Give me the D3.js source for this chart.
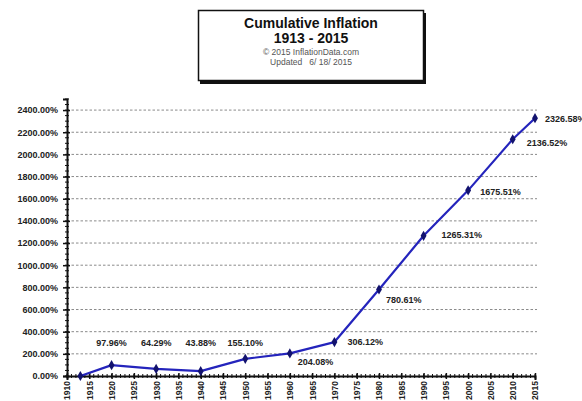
<!DOCTYPE html>
<html>
<head>
<meta charset="utf-8">
<script src="https://cdn.jsdelivr.net/npm/d3@7"></script>
<style>
  html, body { margin: 0; padding: 0; background: #fff; }
  svg { display: block; font-family: "Liberation Sans", Arial, sans-serif; }
</style>
</head>
<body>
<svg id="chart" width="582" height="401"></svg>
<script>
// Cumulative inflation since 1913, in percent
const years = [1913, 1920, 1930, 1940, 1950, 1960, 1970, 1980, 1990, 2000, 2010, 2015];
const cumulative = [0, 97.96, 64.29, 43.88, 155.10, 204.08, 306.12, 780.61, 1265.31, 1675.51, 2136.52, 2326.58];
// which points carry a value label (1913 has none)
const labelled = [false, true, true, true, true, true, true, true, true, true, true, true];
const yTicks = [0, 200, 400, 600, 800, 1000, 1200, 1400, 1600, 1800, 2000, 2200, 2400];
const xTicks = d3.range(1910, 2016, 5);
const titleLines = ["Cumulative Inflation", "1913 - 2015", "\u00a9 2015 InflationData.com", "Updated   6/ 18/ 2015"];

// label offsets from each point (layout only)
const labelOffset = {
  1920: { above: true }, 1930: { above: true }, 1940: { above: true }, 1950: { above: true },
  1960: { dx: 8, dy: 12 }, 1970: { dx: 13, dy: 3 }, 1980: { dx: 7, dy: 13 },
  1990: { dx: 18, dy: 2 }, 2000: { dx: 12, dy: 5 }, 2010: { dx: 14, dy: 7 }, 2015: { dx: 10, dy: 4 }
};

const svg = d3.select("#chart");
const plotLeft = 67, plotRight = 535, plotBottom = 376, plotTop = 99;

const x = d3.scaleLinear().domain([1910, 2015]).range([plotLeft, plotRight]);
const y = d3.scaleLinear().domain([0, 2500]).range([plotBottom, plotTop]);

// title box with drop shadow
const box = svg.append("g");
box.append("rect").attr("x", 200).attr("y", 13).attr("width", 226).attr("height", 71).attr("fill", "#111");
box.append("rect").attr("x", 198.5).attr("y", 10.5).attr("width", 225).attr("height", 70)
  .attr("fill", "#fff").attr("stroke", "#111").attr("stroke-width", 1.5);
const tl = [
  { t: titleLines[0], y: 28, size: 14, w: "bold" },
  { t: titleLines[1], y: 43, size: 14, w: "bold" },
  { t: titleLines[2], y: 55, size: 8.5, w: "normal" },
  { t: titleLines[3], y: 65, size: 8.5, w: "normal" }
];
box.selectAll("text.title").data(tl).join("text")
  .attr("class", "title")
  .attr("x", 311).attr("y", d => d.y)
  .attr("text-anchor", "middle")
  .attr("font-size", d => d.size).attr("font-weight", d => d.w)
  .attr("fill", d => d.w === "bold" ? "#111" : "#555")
  .attr("xml:space", "preserve")
  .style("white-space", "pre")
  .text(d => d.t);

// dashed gridlines
svg.append("g").selectAll("line").data(yTicks.filter(v => v > 0)).join("line")
  .attr("x1", plotLeft).attr("x2", plotRight + 2)
  .attr("y1", d => y(d)).attr("y2", d => y(d))
  .attr("stroke", "#8a8a8a").attr("stroke-width", 1).attr("stroke-dasharray", "2.5,2");

// y axis
const yAxis = svg.append("g").attr("transform", `translate(${plotLeft},0)`)
  .call(d3.axisLeft(y).tickValues(yTicks).tickSize(4).tickFormat(d => d3.format(".2f")(d) + "%"));
yAxis.select(".domain").attr("stroke", "#111").attr("stroke-width", 2);
yAxis.selectAll(".tick line").attr("stroke", "#111").attr("stroke-width", 1.5).attr("x2", -4).attr("x1", 3);
yAxis.selectAll(".tick text").attr("font-size", 9).attr("font-weight", "bold").attr("fill", "#222")
  .attr("x", -9).attr("font-family", "Liberation Sans, Arial, sans-serif");
// minor y ticks
svg.append("g").selectAll("line").data(d3.range(0, 2501, 50)).join("line")
  .attr("x1", plotLeft - 2).attr("x2", plotLeft + 2)
  .attr("y1", d => y(d)).attr("y2", d => y(d))
  .attr("stroke", "#111").attr("stroke-width", 1);

// x axis
const xAxis = svg.append("g").attr("transform", `translate(0,${plotBottom})`)
  .call(d3.axisBottom(x).tickValues(xTicks).tickSize(4).tickFormat(d3.format("d")));
xAxis.select(".domain").attr("stroke", "#111").attr("stroke-width", 2);
xAxis.selectAll(".tick line").attr("stroke", "#111").attr("stroke-width", 1.5).attr("y1", -3).attr("y2", 3);
xAxis.selectAll(".tick text")
  .attr("font-size", 8.5).attr("font-weight", "bold").attr("fill", "#222")
  .attr("font-family", "Liberation Sans, Arial, sans-serif")
  .attr("transform", "rotate(-90)")
  .attr("text-anchor", "end")
  .attr("x", -5).attr("y", 0).attr("dy", "0.35em");
// minor x ticks, one per year
svg.append("g").selectAll("line").data(d3.range(1910, 2016, 1)).join("line")
  .attr("x1", d => x(d)).attr("x2", d => x(d))
  .attr("y1", plotBottom - 2).attr("y2", plotBottom + 2)
  .attr("stroke", "#111").attr("stroke-width", 1);

// series line
const pts = years.map((yr, i) => ({ yr, v: cumulative[i], lab: labelled[i] }));
svg.append("path").datum(pts)
  .attr("fill", "none").attr("stroke", "#2424bc").attr("stroke-width", 2.2)
  .attr("stroke-linejoin", "round")
  .attr("d", d3.line().x(d => x(d.yr)).y(d => y(d.v)));

// diamond markers
svg.append("g").selectAll("path").data(pts).join("path")
  .attr("transform", d => `translate(${x(d.yr)},${y(d.v)})`)
  .attr("d", d3.symbol().type(d3.symbolDiamond).size(30))
  .attr("fill", "#12126e");

// value labels: early points share one row above the line, later ones sit beside their point
svg.append("g").selectAll("text").data(pts.filter(d => d.lab)).join("text")
  .attr("x", d => labelOffset[d.yr].above ? x(d.yr) : x(d.yr) + labelOffset[d.yr].dx)
  .attr("y", d => labelOffset[d.yr].above ? 346 : y(d.v) + labelOffset[d.yr].dy)
  .attr("text-anchor", d => labelOffset[d.yr].above ? "middle" : "start")
  .attr("font-size", 9).attr("font-weight", "bold").attr("fill", "#222")
  .text(d => d3.format(".2f")(d.v) + "%");
</script>
</body>
</html>
